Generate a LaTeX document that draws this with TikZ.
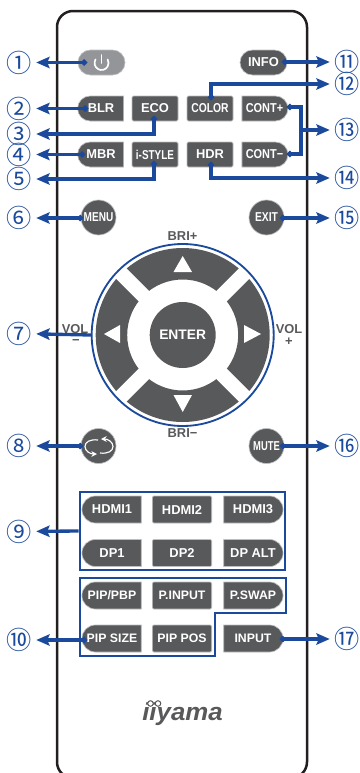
\documentclass[tikz,border=0pt]{standalone}
\usepackage{graphicx}
\usepackage{fontspec}
\setmainfont{Liberation Sans}
\newfontfamily\numfont{Noto Sans CJK JP}
\usetikzlibrary{arrows.meta,shapes.misc}
\definecolor{bluewire}{HTML}{1B4A9C}
\definecolor{keygray}{HTML}{58595B}
\definecolor{keypower}{HTML}{939598}
\definecolor{keyedge}{HTML}{BCBEC0}
\definecolor{shell}{HTML}{231F20}
\newcommand{\cond}[2]{\scalebox{#1}[1]{#2}}
\tikzset{
	numlabel/.style={inner sep=0, minimum width=10.2mm, text=bluewire, font=\numfont\fontsize{21.5}{22}\selectfont},
	keytext/.style={inner sep=0, fill=keygray, draw=keyedge, line width=.2mm, text=white, font=\fontsize{11}{12}\selectfont\bfseries},
	keyL/.style={keytext, rounded rectangle, rounded rectangle east arc=none, minimum width=13.8mm, minimum height=7.5mm},
	keyM/.style={keytext, rectangle, rounded corners=.4mm, minimum width=13.8mm, minimum height=7.5mm},
	keyR/.style={keytext, rounded rectangle, rounded rectangle west arc=none, minimum width=13.8mm, minimum height=7.5mm},
	keyP/.style={keytext, rounded rectangle, minimum width=14.1mm, minimum height=7.5mm},
	keyC/.style={keytext, circle, minimum size=10.5mm},
	wideL/.style={keyL, minimum width=17.8mm, minimum height=8.1mm},
	wideM/.style={keyM, minimum width=17.8mm, minimum height=8.1mm},
	wideR/.style={keyR, minimum width=17.8mm, minimum height=8.1mm},
	small/.style={font=\fontsize{10.5}{12}\selectfont\bfseries},
	wire/.style={bluewire, line width=1mm},
	callout/.style={wire, -{Stealth[length=4mm,width=3.4mm,inset=.7mm]}},
	dotcallout/.style={wire, {Circle[length=1.7mm]}-{Stealth[length=4mm,width=3.4mm,inset=.7mm]}},
	boxline/.style={bluewire, line width=.6mm},
	printed/.style={inner sep=0, text=keygray, font=\fontsize{11}{12}\selectfont\bfseries},
	backarc/.style={white, line width=.35mm, -{Stealth[length=1.7mm,width=1.7mm]}},
}
\begin{document}
\begin{tikzpicture}[x=.3mm,y=-.3mm]

	\useasboundingbox (0,0) rectangle (359,773);
	\draw[shell, line width=.75mm, rounded corners=4.8mm] (57,11) rectangle (307,778);

	% top rows
	\node (Power)[keyP, fill=keypower] at (101.5,62.5) {};
	\draw[white, line width=.5mm, line cap=round] (95.5,59.5) arc (210:-30:7);
	\draw[white, line width=.5mm, line cap=round] (101.5,55) -- (101.5,63);
	\node (Info)[keyP] at (263.5,62.5) {INFO};
	\node (Blr)[keyL] at (101,108.5) {BLR};
	\node (Eco)[keyM] at (155,108.5) {ECO};
	\node (Color)[keyM] at (210,108.5) {\cond{.8}{COLOR}};
	\node (ContP)[keyR] at (264.5,108.5) {\cond{.85}{CONT+}};
	\node (Mbr)[keyL] at (101,154.5) {MBR};
	\node (Style)[keyM] at (155,154.5) {\cond{.77}{i-STYLE}};
	\node (Hdr)[keyM] at (210,154.5) {HDR};
	\node (ContM)[keyR] at (264.5,154.5) {\cond{.85}{CONT\textminus}};
	\node (Menu)[keyC] at (98.5,217.5) {\cond{.78}{MENU}};
	\node (Exit)[keyC] at (266.5,217.5) {\cond{.8}{EXIT}};
	\node (Back)[keyC] at (98.5,446) {};
	\node (Mute)[keyC] at (266.5,446) {\cond{.73}{MUTE}};
	\draw[backarc] (98,440) .. controls (90,439) and (85,442) .. (85,446.5) .. controls (85,451) and (90,454) .. (97,454);
	\draw[backarc] (100,453) .. controls (108,454) and (113,451) .. (113,446.5) .. controls (113,442) and (108,439) .. (101,439);

	% cursor ring
	\fill[keygray, even odd rule] (182.7,335) circle [radius=87] (182.7,335) circle [radius=55.5];
	\draw[white, line width=4.4mm] (117,269.3) -- (248.4,400.7);
	\draw[white, line width=4.4mm] (248.4,269.3) -- (117,400.7);
	\node (Ring)[draw=bluewire, line width=.55mm, circle, inner sep=0, minimum size=54.6mm] at (182.7,335) {};
	\node (Enter)[keytext, draw=none, circle, minimum size=19.8mm, font=\fontsize{11.8}{12}\selectfont\bfseries] at (182.7,335) {ENTER};
	\fill[white] (182.7,256) -- (192,272) -- (173.5,272) -- cycle;
	\fill[white] (182.7,412) -- (192,395) -- (173.5,395) -- cycle;
	\fill[white] (104,334) -- (120,325) -- (120,343) -- cycle;
	\fill[white] (261,334) -- (244,325) -- (244,343) -- cycle;
	\node (BriP)[printed] at (182.5,236) {BRI+};
	\node (BriM)[printed] at (182.5,433) {BRI\textminus};
	\node (VolM)[printed] at (75,329) {VOL};
	\node (VolMs)[printed] at (76,342) {\textminus};
	\node (VolP)[printed] at (289,329) {VOL};
	\node (VolPs)[printed] at (289,342) {+};

	% source keys
	\node (Hdmi1)[wideL] at (112,509.5) {HDMI1};
	\node (Hdmi2)[wideM] at (182,509.5) {HDMI2};
	\node (Hdmi3)[wideR] at (253,509.5) {HDMI3};
	\node (Dp1)[wideL] at (112,553) {DP1};
	\node (Dp2)[wideM] at (182,553) {DP2};
	\node (DpAlt)[wideR] at (253,553) {DP ALT};
	\node (PipPbp)[wideL, small] at (112,595.5) {PIP/PBP};
	\node (PInput)[wideM, small] at (182,595.5) {P.INPUT};
	\node (PSwap)[wideR, small] at (253,595.5) {P.SWAP};
	\node (PipSize)[wideL, small] at (112,638.5) {PIP SIZE};
	\node (PipPos)[wideM, small] at (182,638.5) {PIP POS};
	\node (Input)[wideR, small] at (253,638.5) {INPUT};
	\node (HdmiBox)[draw=bluewire, line width=.6mm, inner sep=0, minimum width=61.7mm, minimum height=23.5mm] at (182.5,531) {};
	\draw[boxline] (79.5,577.5) -- (285.5,577.5) -- (285.5,612.5) -- (214.5,612.5) -- (214.5,656) -- (79.5,656) -- cycle;

	\node (Logo)[text=keygray, inner sep=0, font=\fontsize{21}{24}\selectfont\bfseries\itshape] at (182.5,714) {\scalebox{1.05}[1]{iiyama}};
	\draw[keygray, fill=white, line width=.3mm] (150.5,703.5) circle [radius=2.8] (158,703.5) circle [radius=2.8];

	% numbers
	\node (N1)[numlabel] at (19,62.5) {①};
	\node (N2)[numlabel] at (19,108.5) {②};
	\node (N3)[numlabel] at (19,134) {③};
	\node (N4)[numlabel] at (19,154.5) {④};
	\node (N5)[numlabel] at (19,179) {⑤};
	\node (N6)[numlabel] at (19,218) {⑥};
	\node (N7)[numlabel] at (19,333.5) {⑦};
	\node (N8)[numlabel] at (19,446) {⑧};
	\node (N9)[numlabel] at (19,531.5) {⑨};
	\node (N10)[numlabel] at (19,640) {⑩};
	\node (N11)[numlabel] at (347,62) {⑪};
	\node (N12)[numlabel] at (347,84) {⑫};
	\node (N13)[numlabel] at (347,130) {⑬};
	\node (N14)[numlabel] at (347,178) {⑭};
	\node (N15)[numlabel] at (347,218) {⑮};
	\node (N16)[numlabel] at (347,446) {⑯};
	\node (N17)[numlabel] at (347,639) {⑰};

	% wire ends on the keys
	\coordinate (P1) at (87,62.5);
	\coordinate (P2) at (88,108.5);
	\coordinate (P3) at (154,116);
	\coordinate (P4) at (85,154.5);
	\coordinate (P5) at (154,161);
	\coordinate (P6) at (83,218);
	\coordinate (P8) at (83,446);
	\coordinate (P10) at (87,640);
	\coordinate (P11) at (282,62);
	\coordinate (P12) at (211,100);
	\coordinate (P13a) at (287,107);
	\coordinate (P13b) at (287,154);
	\coordinate (J13) at (301,130);
	\coordinate (P14) at (211,162);
	\coordinate (P15) at (280,218);
	\coordinate (P16) at (280,446);
	\coordinate (P17) at (280,639);

	\draw [dotcallout] (P1) to (N1);
	\draw [dotcallout] (P2) to (N2);
	\draw [dotcallout] (P3) |- (N3);
	\draw [dotcallout] (P4) to (N4);
	\draw [dotcallout] (P5) |- (N5);
	\draw [dotcallout] (P6) to (N6);
	\draw [callout] (Ring.west) to (N7);
	\draw [dotcallout] (P8) to (N8);
	\draw [callout] (HdmiBox.west) to (N9);
	\draw [dotcallout] (P10) to (N10);
	\draw [dotcallout] (P11) to (N11);
	\draw [dotcallout] (P12) |- (N12);
	\draw [wire, {Circle[length=1.7mm]}-{Circle[length=1.7mm]}] (P13a) -| (J13) |- (P13b);
	\draw [callout] (J13) to (N13);
	\draw [dotcallout] (P14) |- (N14);
	\draw [dotcallout] (P15) to (N15);
	\draw [dotcallout] (P16) to (N16);
	\draw [dotcallout] (P17) to (N17);

\end{tikzpicture}
\end{document}
